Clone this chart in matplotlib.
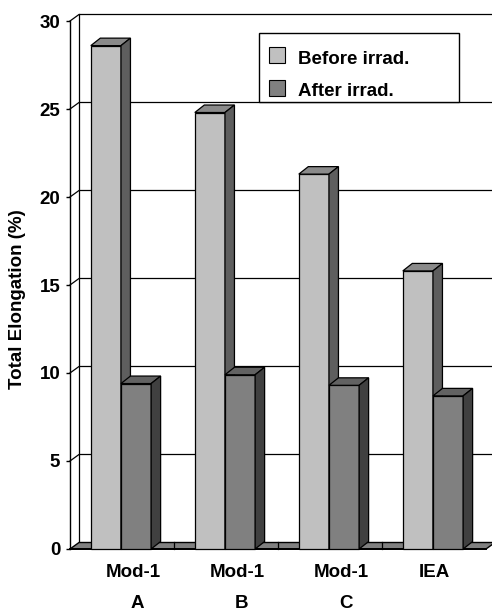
import matplotlib
matplotlib.use("Agg")
from matplotlib import pyplot as plt
from matplotlib.patches import Polygon, Rectangle
from matplotlib.transforms import Affine2D

plt.rcParams['font.family'] = ['Liberation Sans', 'DejaVu Sans']
plt.rcParams['font.weight'] = 'bold'

## data ##
categories = ["Mod-1", "Mod-1", "Mod-1", "IEA"]
sub_labels = ["A", "B", "C", ""]
series = ["Before irrad.", "After irrad."]
before = [28.6, 24.8, 21.3, 15.8]
after = [9.4, 9.9, 9.3, 8.7]

# face, top, side colours per series
colors = [("#C0C0C0", "#8A8A8A", "#5E5E5E"),
          ("#808080", "#626262", "#404040")]
fs = 13.5

W, H = 492, 610
fig = plt.figure(figsize=(W / 100, H / 100), dpi=100)
px = Affine2D().scale(1 / W, -1 / H).translate(0, 1) + fig.transFigure

# map data -> pixels: category 0 at x=70, 104 px per category; 0 at y=549, 17.6 px per unit
x_px0, x_scale = 70, 104
y_px0, y_scale = 549, 17.6
xlim = (-0.1, (W - x_px0) / x_scale)
ylim = (-0.6, 30.6)
left = x_px0 + xlim[0] * x_scale
bot = y_px0 - ylim[0] * y_scale
top = y_px0 - ylim[1] * y_scale
ax = fig.add_axes([left / W, 1 - bot / H, (W - left) / W, (bot - top) / H])
ax.set_xlim(*xlim)
ax.set_ylim(*ylim)

# depth of wall/floor and of bars, in data units
wdx, wdy = 9 / x_scale, 6.5 / y_scale
bdx, bdy = 9.5 / x_scale, 7.5 / y_scale
n = len(categories)
ymax = 30

## back wall + gridlines ##
ax.plot([wdx, wdx], [wdy, ymax + wdy], color='black', lw=0.9, zorder=1)
for v in range(5, ymax + 1, 5):
    ax.plot([0, wdx, xlim[1]], [v, v + wdy, v + wdy], color='black', lw=0.9, zorder=1)

## floor ##
ax.add_patch(Polygon([(0, 0), (n, 0), (n + wdx, wdy), (wdx, wdy)],
                     facecolor='#808080', edgecolor='black', lw=1.0, zorder=2))
for i in range(1, n):
    ax.plot([i, i], [0, wdy], color='black', lw=0.9, zorder=2)
ax.plot([0, n], [0, 0], color='black', lw=1.4, zorder=2)

## bars ##
w, off = 0.29, 0.2
z = 3
for i in range(n):
    for s, vals in enumerate([before, after]):
        v = vals[i]
        x = i + off + s * w
        face, topc, side = colors[s]
        ax.add_patch(Rectangle((x, 0), w, v, facecolor=face, edgecolor='black', lw=0.9, zorder=z))
        ax.add_patch(Polygon([(x, v), (x + w, v), (x + w + bdx, v + bdy), (x + bdx, v + bdy)],
                             facecolor=topc, edgecolor='black', lw=0.9, zorder=z))
        ax.add_patch(Polygon([(x + w, 0), (x + w + bdx, bdy), (x + w + bdx, v + bdy), (x + w, v)],
                             facecolor=side, edgecolor='black', lw=0.9, zorder=z))
        z += 1

## axes ##
for sp in ['top', 'right', 'bottom']:
    ax.spines[sp].set_visible(False)
ax.spines['left'].set_position(('data', 0))
ax.spines['left'].set_bounds(0, ymax)
ax.spines['left'].set_linewidth(1.0)
ax.set_xticks([])
ax.set_yticks(range(0, ymax + 1, 5))
ax.tick_params(axis='y', direction='out', length=3, width=1, pad=4, labelsize=fs)
for t in ax.get_yticklabels():
    t.set_fontweight('bold')
ax.patch.set_alpha(0)

for i in range(n):
    shift = 0.105 if sub_labels[i] else 0
    ax.text(i + 0.5 + shift, -1.31, categories[i], ha='center', va='center',
            fontsize=fs, fontweight='bold')
    if sub_labels[i]:
        ax.text(i + 0.65, -3.07, sub_labels[i], ha='center', va='center',
                fontsize=fs, fontweight='bold')

fig.text(18 / W, 1 - 299 / H, "Total Elongation (%)", rotation=90, ha='center',
         va='center', fontsize=fs, fontweight='bold')

## legend ##
fig.add_artist(Rectangle((259, 33), 200, 69, transform=px, facecolor='white',
                         edgecolor='black', lw=1.0, zorder=10))
for s, name in enumerate(series):
    y0 = 47 + s * 32.5
    fig.add_artist(Rectangle((269, y0), 16, 16, transform=px, facecolor=colors[s][0],
                             edgecolor='black', lw=0.8, zorder=11))
    fig.text(298, y0 + 16.5, name, transform=px, ha='left', va='baseline',
             fontsize=fs, fontweight='bold', zorder=11)

fig.savefig('out.png', dpi=100)
